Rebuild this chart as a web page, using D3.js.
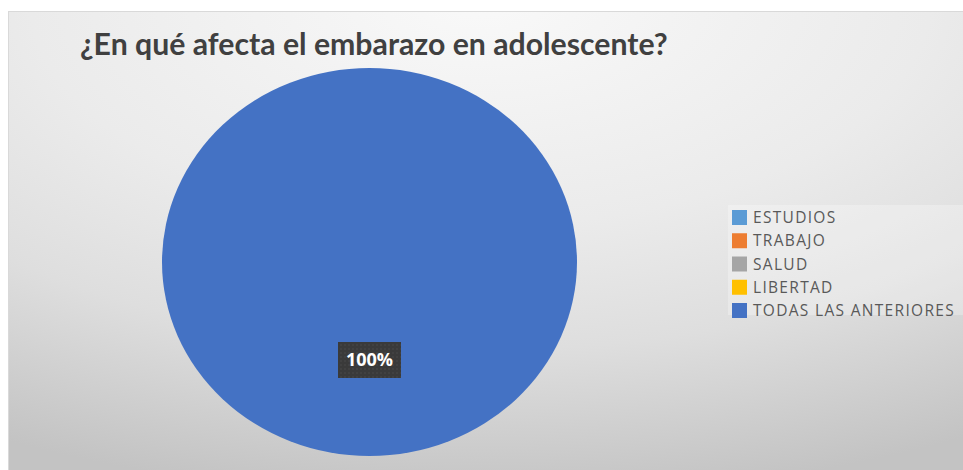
<!DOCTYPE html>
<html>
<head>
<meta charset="utf-8">
<script src="https://cdn.jsdelivr.net/npm/d3@7/dist/d3.min.js"></script>
<style>
html,body{margin:0;padding:0;background:#fff;}
svg{display:block;}
</style>
</head>
<body>
<svg id="chart" width="963" height="470"></svg>
<script>
const title = "¿En qué afecta el embarazo en adolescente?";
const categories = ["ESTUDIOS", "TRABAJO", "SALUD", "LIBERTAD", "TODAS LAS ANTERIORES"];
const values = [0, 0, 0, 0, 100];
const colors = ["#5b9bd5", "#ed7d31", "#a5a5a5", "#ffc000", "#4472c4"];

const svg = d3.select("#chart");
const W = 963, H = 470;

const defs = svg.append("defs");
const grad = defs.append("radialGradient").attr("id", "bg")
  .attr("gradientUnits", "userSpaceOnUse")
  .attr("cx", 0).attr("cy", 0).attr("r", 500)
  .attr("gradientTransform", "translate(480,0) scale(2,1)");
grad.append("stop").attr("offset", "0%").attr("stop-color", "#f9f9f9");
grad.append("stop").attr("offset", "45%").attr("stop-color", "#ebebeb");
grad.append("stop").attr("offset", "70%").attr("stop-color", "#dedede");
grad.append("stop").attr("offset", "100%").attr("stop-color", "#c3c3c3");

const pat = defs.append("pattern").attr("id", "dots")
  .attr("width", 4).attr("height", 4).attr("patternUnits", "userSpaceOnUse");
pat.append("rect").attr("width", 4).attr("height", 4).attr("fill", "#3a3a3a");
pat.append("circle").attr("cx", 1).attr("cy", 1).attr("r", 0.7).attr("fill", "#4c4c4c");

// chart area
svg.append("rect").attr("x", 8.5).attr("y", 11.5).attr("width", W - 8).attr("height", H - 11)
  .attr("fill", "url(#bg)").attr("stroke", "#d9d9d9").attr("stroke-width", 1);

// title
const t = svg.append("text").attr("x", 80).attr("y", 55)
  .attr("font-family", "Lato, 'Open Sans', sans-serif").attr("font-weight", "bold")
  .attr("fill", "#404040").text(title);
t.attr("font-size", 24);
const tw = t.node().getComputedTextLength();
t.attr("font-size", 24 * 588 / tw);

// pie (slightly elliptical as in the reference)
const cx = 369.5, cy = 262, rx = 207.5, ry = 194;
const pie = d3.pie().sort(null).value(d => d.v);
const data = categories.map((c, i) => ({c, v: values[i], col: colors[i]}));
const arcs = pie(data);
const arc = d3.arc().innerRadius(0).outerRadius(rx);

const g = svg.append("g").attr("transform", `translate(${cx},${cy}) scale(1,${ry / rx})`);
g.selectAll("path").data(arcs).join("path")
  .attr("d", arc).attr("fill", d => d.data.col);

// data labels
const total = d3.sum(values);
const fmt = d3.format(".0%");
arcs.filter(d => d.data.v > 0).forEach(d => {
  const [lx, ly] = arc.centroid(d);
  const px = cx + lx, py = cy + ly * ry / rx;
  const lg = svg.append("g");
  const bw = 63, bh = 36;
  lg.append("rect").attr("x", px - bw / 2).attr("y", py - bh / 2 + 1)
    .attr("width", bw).attr("height", bh).attr("fill", "url(#dots)");
  lg.append("text").attr("x", px).attr("y", py + 7)
    .attr("text-anchor", "middle")
    .attr("font-family", "'Open Sans', sans-serif").attr("font-weight", "bold")
    .attr("font-size", 18).attr("fill", "#ffffff")
    .text(fmt(d.data.v / total));
});

// legend
const lgX = 728, lgY = 205;
svg.append("rect").attr("x", lgX).attr("y", lgY).attr("width", W - lgX).attr("height", 110)
  .attr("fill", "#ffffff").attr("fill-opacity", 0.28);
const rowY = d3.scalePoint().domain(categories).range([217, 310]);
const leg = svg.append("g");
const texts = [];
categories.forEach((c, i) => {
  const y = rowY(c);
  leg.append("rect").attr("x", 732).attr("y", y - 7).attr("width", 15).attr("height", 15)
    .attr("fill", colors[i]);
  texts.push(leg.append("text").attr("x", 753).attr("y", y + 6)
    .attr("font-family", "'Open Sans', sans-serif").attr("font-size", 15.5)
    .attr("fill", "#595959").text(c));
});
const last = texts[texts.length - 1];
const longest = last.node().getComputedTextLength();
const n = categories[categories.length - 1].length;
const ls = Math.max(0, (202 - longest) / n);
texts.forEach(tt => tt.attr("letter-spacing", ls));
</script>
</body>
</html>
